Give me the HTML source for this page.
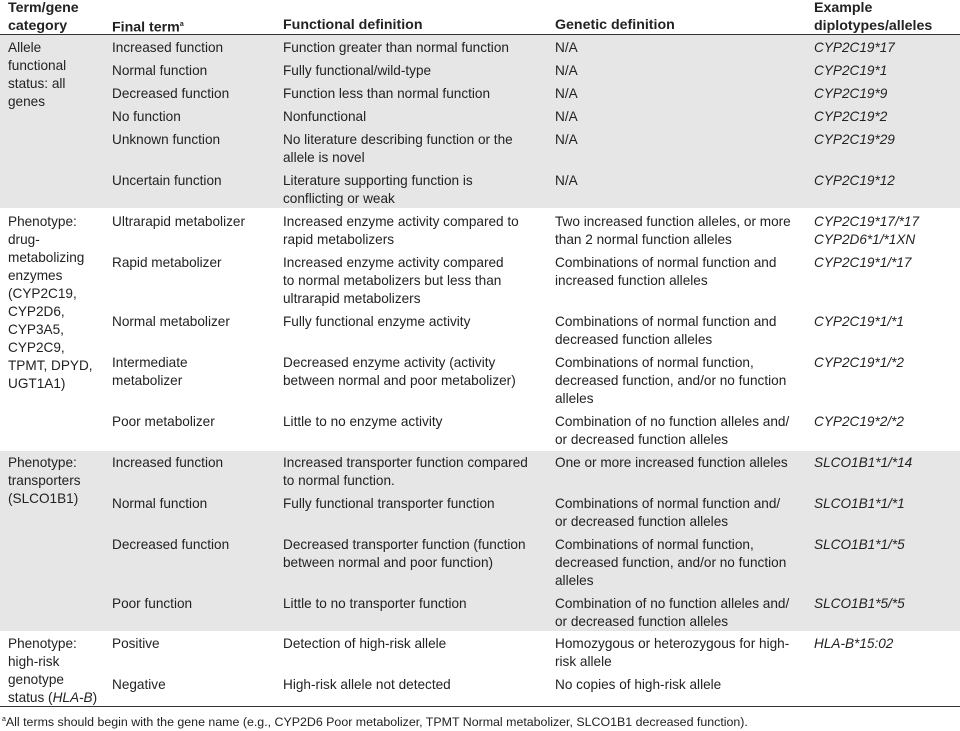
<!DOCTYPE html><html><head><style>
body{margin:0;width:960px;height:730px;background:#fff;position:relative;font-family:"Liberation Sans",sans-serif;font-size:13.6px;color:#222;overflow:hidden}
.b{position:absolute;left:0;width:960px;background:#e6e6e6}
.t{position:absolute;white-space:nowrap;line-height:18px}
.h{font-weight:bold;font-size:14.2px}
i{font-style:italic}
</style></head><body>
<div class="b" style="top:35px;height:173px"></div>
<div class="b" style="top:451px;height:180px"></div>
<div style="position:absolute;left:0;top:34px;width:960px;height:1px;background:#333"></div>
<div style="position:absolute;left:0;top:706px;width:960px;height:1px;background:#333"></div>

<div class="t h" style="left:8px;top:-1px">Term/gene<br>category</div>
<div class="t h" style="left:112px;top:16px">Final term<sup style="font-size:7px">a</sup></div>
<div class="t h" style="left:283px;top:16px">Functional definition</div>
<div class="t h" style="left:555px;top:16px">Genetic definition</div>
<div class="t h" style="left:814px;top:-1px">Example<br>diplotypes/alleles</div>

<div class="t" style="left:8px;top:39px">Allele<br>functional<br>status: all<br>genes</div>
<div class="t" style="left:8px;top:213px">Phenotype:<br>drug-<br>metabolizing<br>enzymes<br>(CYP2C19,<br>CYP2D6,<br>CYP3A5,<br>CYP2C9,<br>TPMT, DPYD,<br>UGT1A1)</div>
<div class="t" style="left:8px;top:454px">Phenotype:<br>transporters<br>(SLCO1B1)</div>
<div class="t" style="left:8px;top:635px">Phenotype:<br>high-risk<br>genotype<br>status (<i>HLA-B</i>)</div>

<div class="t" style="left:112px;top:39px">Increased function</div>
<div class="t" style="left:283px;top:39px">Function greater than normal function</div>
<div class="t" style="left:555px;top:39px">N/A</div>
<div class="t" style="left:814px;top:39px"><i>CYP2C19*17</i></div>

<div class="t" style="left:112px;top:62px">Normal function</div>
<div class="t" style="left:283px;top:62px">Fully functional/wild-type</div>
<div class="t" style="left:555px;top:62px">N/A</div>
<div class="t" style="left:814px;top:62px"><i>CYP2C19*1</i></div>

<div class="t" style="left:112px;top:85px">Decreased function</div>
<div class="t" style="left:283px;top:85px">Function less than normal function</div>
<div class="t" style="left:555px;top:85px">N/A</div>
<div class="t" style="left:814px;top:85px"><i>CYP2C19*9</i></div>

<div class="t" style="left:112px;top:108px">No function</div>
<div class="t" style="left:283px;top:108px">Nonfunctional</div>
<div class="t" style="left:555px;top:108px">N/A</div>
<div class="t" style="left:814px;top:108px"><i>CYP2C19*2</i></div>

<div class="t" style="left:112px;top:131px">Unknown function</div>
<div class="t" style="left:283px;top:131px">No literature describing function or the<br>allele is novel</div>
<div class="t" style="left:555px;top:131px">N/A</div>
<div class="t" style="left:814px;top:131px"><i>CYP2C19*29</i></div>

<div class="t" style="left:112px;top:172px">Uncertain function</div>
<div class="t" style="left:283px;top:172px">Literature supporting function is<br>conflicting or weak</div>
<div class="t" style="left:555px;top:172px">N/A</div>
<div class="t" style="left:814px;top:172px"><i>CYP2C19*12</i></div>

<div class="t" style="left:112px;top:213px">Ultrarapid metabolizer</div>
<div class="t" style="left:283px;top:213px">Increased enzyme activity compared to<br>rapid metabolizers</div>
<div class="t" style="left:555px;top:213px">Two increased function alleles, or more<br>than 2 normal function alleles</div>
<div class="t" style="left:814px;top:213px"><i>CYP2C19*17/*17<br>CYP2D6*1/*1XN</i></div>

<div class="t" style="left:112px;top:254px">Rapid metabolizer</div>
<div class="t" style="left:283px;top:254px">Increased enzyme activity compared<br>to normal metabolizers but less than<br>ultrarapid metabolizers</div>
<div class="t" style="left:555px;top:254px">Combinations of normal function and<br>increased function alleles</div>
<div class="t" style="left:814px;top:254px"><i>CYP2C19*1/*17</i></div>

<div class="t" style="left:112px;top:313px">Normal metabolizer</div>
<div class="t" style="left:283px;top:313px">Fully functional enzyme activity</div>
<div class="t" style="left:555px;top:313px">Combinations of normal function and<br>decreased function alleles</div>
<div class="t" style="left:814px;top:313px"><i>CYP2C19*1/*1</i></div>

<div class="t" style="left:112px;top:354px">Intermediate<br>metabolizer</div>
<div class="t" style="left:283px;top:354px">Decreased enzyme activity (activity<br>between normal and poor metabolizer)</div>
<div class="t" style="left:555px;top:354px">Combinations of normal function,<br>decreased function, and/or no function<br>alleles</div>
<div class="t" style="left:814px;top:354px"><i>CYP2C19*1/*2</i></div>

<div class="t" style="left:112px;top:413px">Poor metabolizer</div>
<div class="t" style="left:283px;top:413px">Little to no enzyme activity</div>
<div class="t" style="left:555px;top:413px">Combination of no function alleles and/<br>or decreased function alleles</div>
<div class="t" style="left:814px;top:413px"><i>CYP2C19*2/*2</i></div>

<div class="t" style="left:112px;top:454px">Increased function</div>
<div class="t" style="left:283px;top:454px">Increased transporter function compared<br>to normal function.</div>
<div class="t" style="left:555px;top:454px">One or more increased function alleles</div>
<div class="t" style="left:814px;top:454px"><i>SLCO1B1*1/*14</i></div>

<div class="t" style="left:112px;top:495px">Normal function</div>
<div class="t" style="left:283px;top:495px">Fully functional transporter function</div>
<div class="t" style="left:555px;top:495px">Combinations of normal function and/<br>or decreased function alleles</div>
<div class="t" style="left:814px;top:495px"><i>SLCO1B1*1/*1</i></div>

<div class="t" style="left:112px;top:536px">Decreased function</div>
<div class="t" style="left:283px;top:536px">Decreased transporter function (function<br>between normal and poor function)</div>
<div class="t" style="left:555px;top:536px">Combinations of normal function,<br>decreased function, and/or no function<br>alleles</div>
<div class="t" style="left:814px;top:536px"><i>SLCO1B1*1/*5</i></div>

<div class="t" style="left:112px;top:595px">Poor function</div>
<div class="t" style="left:283px;top:595px">Little to no transporter function</div>
<div class="t" style="left:555px;top:595px">Combination of no function alleles and/<br>or decreased function alleles</div>
<div class="t" style="left:814px;top:595px"><i>SLCO1B1*5/*5</i></div>

<div class="t" style="left:112px;top:635px">Positive</div>
<div class="t" style="left:283px;top:635px">Detection of high-risk allele</div>
<div class="t" style="left:555px;top:635px">Homozygous or heterozygous for high-<br>risk allele</div>
<div class="t" style="left:814px;top:635px"><i>HLA-B*15:02</i></div>

<div class="t" style="left:112px;top:676px">Negative</div>
<div class="t" style="left:283px;top:676px">High-risk allele not detected</div>
<div class="t" style="left:555px;top:676px">No copies of high-risk allele</div>

<div class="t" style="left:2px;top:711px;font-size:12.4px"><sup style="font-size:7px">a</sup>All terms should begin with the gene name (e.g., CYP2D6 Poor metabolizer, TPMT Normal metabolizer, SLCO1B1 decreased function).</div>
</body></html>
